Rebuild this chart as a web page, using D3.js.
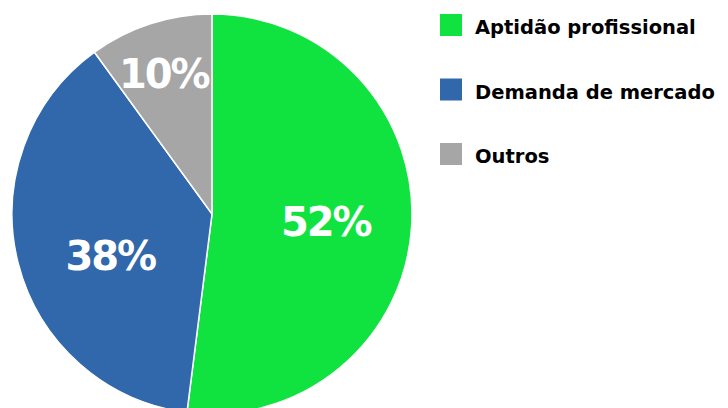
<!DOCTYPE html>
<html>
<head>
<meta charset="utf-8">
<script src="https://cdn.jsdelivr.net/npm/d3@7"></script>
<style>
  body { margin: 0; background: #fff; }
  svg { display: block; }
  text { font-family: "DejaVu Sans", sans-serif; font-weight: bold; }
</style>
</head>
<body>
<svg id="chart" width="728" height="408"></svg>
<script>
// data
var categories = ["Aptidão profissional", "Demanda de mercado", "Outros"];
var values = [52, 38, 10];
var colors = ["#10e33f", "#3167ab", "#a6a6a6"];

var W = 728, H = 408;
var svg = d3.select("#chart");

var cx = 212, cy = 214, radius = 200;
var g = svg.append("g").attr("transform", "translate(" + cx + "," + cy + ")");

var pie = d3.pie().sort(null).value(function(d){ return d; });
var arcs = pie(values);

var arc = d3.arc().innerRadius(0).outerRadius(radius);

g.selectAll("path.slice")
  .data(arcs)
  .enter().append("path")
  .attr("class", "slice")
  .attr("d", arc)
  .style("fill", function(d, i){ return colors[i]; })
  .style("stroke", "#fff")
  .style("stroke-width", 1.5);

// label radius differs a bit per slice (small slice gets pushed outward)
var labelR = [0.57, 0.55, 0.74];
var labelShift = [0, -8, -1]; // angle nudge in degrees
g.selectAll("text.pct")
  .data(arcs)
  .enter().append("text")
  .attr("class", "pct")
  .attr("transform", function(d, i){
      var a = (d.startAngle + d.endAngle) / 2 + labelShift[i] * Math.PI / 180;
      var r = radius * labelR[i];
      return "translate(" + (Math.sin(a) * r) + "," + (-Math.cos(a) * r) + ")";
  })
  .attr("text-anchor", "middle")
  .attr("dy", "0.36em")
  .style("fill", "#fff")
  .style("font-size", "40px")
  .style("letter-spacing", "-2px")
  .text(function(d){ return d.data + "%"; });

// legend
var legend = svg.append("g").attr("transform", "translate(440,14)");
var item = legend.selectAll("g.item")
  .data(categories)
  .enter().append("g")
  .attr("class", "item")
  .attr("transform", function(d, i){ return "translate(0," + (i * 64.5) + ")"; });

item.append("rect")
  .attr("width", 22).attr("height", 22)
  .style("fill", function(d, i){ return colors[i]; });

item.append("text")
  .attr("x", 35).attr("y", 20)
  .style("font-size", "19.5px")
  .style("fill", "#000")
  .text(function(d){ return d; });
</script>
</body>
</html>
